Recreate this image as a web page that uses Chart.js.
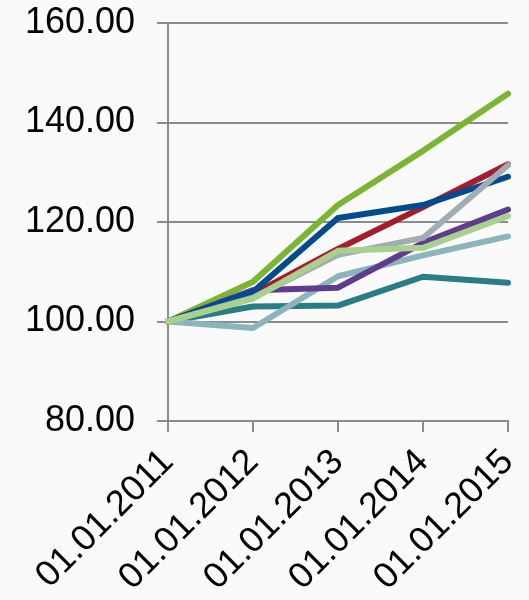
<!DOCTYPE html>
<html>
<head>
<meta charset="utf-8">
<script src="https://cdn.jsdelivr.net/npm/chart.js@4/dist/chart.umd.min.js"></script>
<style>
  html, body { margin: 0; padding: 0; background: #fafafa; overflow: hidden; }
  #wrap { width: 529px; height: 600px; }
</style>
</head>
<body>
<div id="wrap"><canvas id="c" width="529" height="600"></canvas></div>
<script>
const categories = ["01.01.2011", "01.01.2012", "01.01.2013", "01.01.2014", "01.01.2015"];
const yTicks = [80, 100, 120, 140, 160];

const lightGreenSeries = [100, 104.6, 114.2, 114.8, 121.2];
const graySeries       = [100, 104.8, 113.4, 116.8, 131.4];
const lightBlueSeries  = [100, 98.7, 109.1, 113.3, 117.1];
const purpleSeries     = [100, 106.3, 106.8, 115.8, 122.5];
const tealSeries       = [100, 103.0, 103.2, 109.0, 107.8];
const blueSeries       = [100, 106.0, 120.8, 123.4, 129.1];
const redSeries        = [100, 105.5, 114.6, 123.0, 131.6];
const greenSeries      = [100, 108.0, 123.4, 134.3, 145.8];

const colors = {
  lightGreen: "#a9d18e",
  gray: "#a2acb3",
  lightBlue: "#8bb4bc",
  purple: "#5f3d8c",
  teal: "#2a7d84",
  blue: "#004b8d",
  red: "#a51d2d",
  green: "#7cb434"
};

function ds(label, data, color) {
  return {
    label, data,
    borderColor: color,
    backgroundColor: color,
    borderWidth: 6,
    pointRadius: 0,
    pointHoverRadius: 0,
    tension: 0,
    fill: false,
    borderCapStyle: "round",
    borderJoinStyle: "round"
  };
}

new Chart(document.getElementById("c"), {
  type: "line",
  data: {
    labels: categories,
    datasets: [
      ds("S1", lightGreenSeries, colors.lightGreen),
      ds("S2", graySeries, colors.gray),
      ds("S3", blueSeries, colors.blue),
      ds("S4", redSeries, colors.red),
      ds("S5", purpleSeries, colors.purple),
      ds("S6", lightBlueSeries, colors.lightBlue),
      ds("S7", tealSeries, colors.teal),
      ds("S8", greenSeries, colors.green)
    ]
  },
  options: {
    responsive: false,
    animation: false,
    devicePixelRatio: 1,
    layout: { padding: { top: 23, right: 21, left: 0, bottom: 0 } },
    plugins: { legend: { display: false }, tooltip: { enabled: false } },
    scales: {
      x: {
        offset: false,
        grid: { display: true, drawOnChartArea: false, drawTicks: true, tickLength: 11, color: "#8c8c8c", lineWidth: 2 },
        border: { display: true, color: "#8c8c8c", width: 2 },
        ticks: {
          autoSkip: false, maxRotation: 45, minRotation: 45,
          color: "#000", padding: 9,
          font: { family: "'Liberation Sans', Arial, sans-serif", size: 36 }
        },
        afterFit(scale) { scale.height = 179; scale.paddingLeft = 0; scale.paddingRight = 0; }
      },
      y: {
        min: 80, max: 160,
        afterBuildTicks(scale) { scale.ticks = yTicks.map(v => ({ value: v })); },
        grid: { display: true, drawOnChartArea: true, drawTicks: true, tickLength: 11, color: "#8c8c8c", lineWidth: 2 },
        border: { display: true, color: "#8c8c8c", width: 2 },
        ticks: {
          color: "#000", padding: 22,
          font: { family: "'Liberation Sans', Arial, sans-serif", size: 36 },
          callback: v => Number(v).toFixed(2)
        },
        afterFit(scale) { scale.width = 168; scale.paddingTop = 0; scale.paddingBottom = 0; }
      }
    }
  }
});
</script>
</body>
</html>
